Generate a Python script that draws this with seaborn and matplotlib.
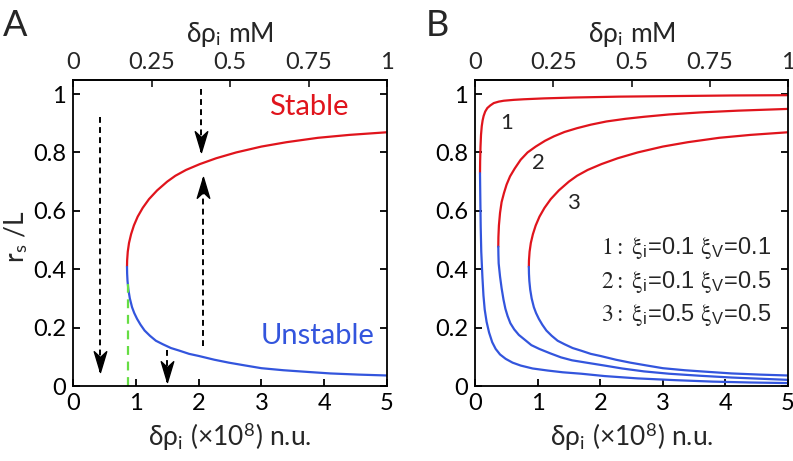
import numpy as np
import pandas as pd
import matplotlib
matplotlib.use('Agg')
import matplotlib.pyplot as plt
from matplotlib.path import Path
import seaborn as sns

sns.set_theme(style='ticks')
plt.rcParams['font.family'] = ['Lato', 'DejaVu Sans']
plt.rcParams['mathtext.fontset'] = 'stix'

RED = '#e0141c'
BLUE = '#3355dd'
GREEN = '#66dd44'

# curve 3 (xi_i=0.5, xi_v=0.5), also the curve of panel A
c3_stable_y = [0.408, 0.43, 0.46, 0.49, 0.52, 0.55, 0.58, 0.61, 0.64, 0.67, 0.70, 0.72, 0.74,
               0.76, 0.78, 0.80, 0.82, 0.835, 0.85, 0.86, 0.869]
c3_stable_x = [0.86, 0.862, 0.872, 0.892, 0.925, 0.97, 1.03, 1.11, 1.21, 1.34, 1.50, 1.63, 1.80,
               2.02, 2.28, 2.60, 3.0, 3.4, 3.9, 4.4, 5.0]
c3_unstable_y = [0.408, 0.385, 0.36, 0.33, 0.30, 0.27, 0.25, 0.23, 0.21, 0.19, 0.172, 0.155, 0.143,
                 0.13, 0.121, 0.11, 0.103, 0.09, 0.08, 0.07, 0.061, 0.054, 0.048, 0.043, 0.039, 0.036]
c3_unstable_x = [0.86, 0.862, 0.868, 0.882, 0.905, 0.94, 0.975, 1.02, 1.075, 1.14, 1.225, 1.32, 1.43,
                 1.56, 1.695, 1.85, 2.0, 2.25, 2.48, 2.75, 3.0, 3.35, 3.75, 4.1, 4.55, 5.0]

# curve 2 (xi_i=0.1, xi_v=0.5)
c2_stable_y = [0.477, 0.51, 0.55, 0.593, 0.63, 0.661, 0.69, 0.718, 0.745, 0.775, 0.80, 0.82,
               0.84, 0.855, 0.87, 0.883, 0.895, 0.906, 0.915, 0.922, 0.93, 0.937, 0.943, 0.949]
c2_stable_x = [0.372, 0.374, 0.382, 0.40, 0.425, 0.463, 0.505, 0.56, 0.635, 0.73, 0.84, 0.97,
               1.12, 1.26, 1.43, 1.63, 1.85, 2.1, 2.4, 2.7, 3.1, 3.6, 4.2, 5.0]
c2_unstable_y = [0.477, 0.45, 0.42, 0.375, 0.335, 0.296, 0.265, 0.24, 0.215, 0.194, 0.175, 0.16, 0.14,
                 0.127, 0.112, 0.098, 0.088, 0.081, 0.07, 0.06, 0.05, 0.042, 0.035, 0.029, 0.025, 0.021]
c2_unstable_x = [0.372, 0.374, 0.378, 0.40, 0.425, 0.455, 0.485, 0.52, 0.565, 0.626, 0.70, 0.786, 0.9,
                 1.027, 1.2, 1.374, 1.55, 1.75, 2.07, 2.35, 2.7, 3.1, 3.6, 4.1, 4.55, 5.0]

# curve 1 (xi_i=0.1, xi_v=0.1)
c1_stable_y = [0.729, 0.77, 0.82, 0.86, 0.89, 0.91, 0.925, 0.94, 0.952, 0.961, 0.969, 0.974,
               0.977, 0.98, 0.982, 0.985, 0.988, 0.991, 0.993, 0.995, 0.996]
c1_stable_x = [0.08, 0.082, 0.088, 0.096, 0.108, 0.122, 0.138, 0.163, 0.197, 0.245, 0.30, 0.38,
               0.46, 0.62, 0.78, 1.1, 1.58, 2.3, 3.2, 4.1, 5.0]
c1_unstable_y = [0.729, 0.64, 0.545, 0.46, 0.375, 0.31, 0.262, 0.22, 0.183, 0.15, 0.127, 0.108, 0.093,
                 0.08, 0.07, 0.06, 0.053, 0.047, 0.042, 0.034, 0.026, 0.02, 0.015, 0.012, 0.01]
c1_unstable_x = [0.08, 0.085, 0.091, 0.10, 0.118, 0.135, 0.155, 0.185, 0.225, 0.275, 0.33, 0.40, 0.49,
                 0.6, 0.73, 0.92, 1.16, 1.4, 1.7, 2.07, 2.6, 3.2, 3.8, 4.4, 5.0]

# panel A extras
threshold_x = 0.87
threshold_top = 0.35
# arrows: x, start y, tip y
arrows_A = [(0.43, 0.92, 0.049), (2.04, 1.018, 0.80), (2.07, 0.136, 0.716), (1.49, 0.125, 0.015)]

x_ticks = [0, 1, 2, 3, 4, 5]
y_ticks = [0, 0.2, 0.4, 0.6, 0.8, 1]
y_ticklabels = ['0', '0.2', '0.4', '0.6', '0.8', '1']
top_ticks = [0, 0.25, 0.5, 0.75, 1]
top_ticklabels = ['0', '0.25', '0.5', '0.75', '1']
legend_lines = [r'$\mathrm{1{:}\ ξ}_{\mathregular{i}}$=0.1 $\mathrm{ξ}_{\mathregular{V}}$=0.1',
                r'$\mathrm{2{:}\ ξ}_{\mathregular{i}}$=0.1 $\mathrm{ξ}_{\mathregular{V}}$=0.5',
                r'$\mathrm{3{:}\ ξ}_{\mathregular{i}}$=0.5 $\mathrm{ξ}_{\mathregular{V}}$=0.5']

TICK_FS = 17
LABEL_FS = 19

head_down = Path([(0, 0), (-0.3, 1), (0, 0.72), (0.3, 1), (0, 0)],
                 [Path.MOVETO, Path.LINETO, Path.LINETO, Path.LINETO, Path.CLOSEPOLY])
head_up = Path([(0, 0), (-0.3, -1), (0, -0.72), (0.3, -1), (0, 0)],
               [Path.MOVETO, Path.LINETO, Path.LINETO, Path.LINETO, Path.CLOSEPOLY])


def draw_curve(ax, sx, sy, ux, uy):
    sns.lineplot(x=sx, y=sy, sort=False, estimator=None, color=RED, lw=1.6, ax=ax)
    sns.lineplot(x=ux, y=uy, sort=False, estimator=None, color=BLUE, lw=1.6, ax=ax)


def style_axes(ax):
    ax.set_xlim(0, 5)
    ax.set_ylim(0, 1.048)
    ax.set_xticks(x_ticks)
    ax.set_yticks(y_ticks)
    ax.set_yticklabels(y_ticklabels)
    ax.tick_params(direction='in', right=True, top=False, length=5, width=1.3,
                   labelsize=TICK_FS, pad=5, colors='black')
    for s in ax.spines.values():
        s.set_linewidth(1.3)
        s.set_color('black')
    sec = ax.secondary_xaxis('top', functions=(lambda v: v / 5, lambda v: v * 5))
    sec.set_xticks(top_ticks)
    sec.set_xticklabels(top_ticklabels)
    sec.tick_params(direction='in', length=5, width=1.3, labelsize=TICK_FS, pad=5)
    sec.spines['top'].set_linewidth(1.3)
    sec.set_xlabel(r'δρ$_{\mathregular{i}}$ mM', fontsize=LABEL_FS, labelpad=7)
    ax.set_xlabel(r'δρ$_{\mathregular{i}}$ (×10$^{\mathregular{8}}$) n.u.', fontsize=LABEL_FS)
    ax.xaxis.set_label_coords(0.5, -0.112)
    ax.set_ylabel('')


fig = plt.figure(figsize=(7.93, 4.61), dpi=100)
axA = fig.add_axes([73 / 793, 75 / 461, 314 / 793, 306 / 461])
axB = fig.add_axes([475 / 793, 75 / 461, 313 / 793, 306 / 461])

# panel A
draw_curve(axA, c3_stable_x, c3_stable_y, c3_unstable_x, c3_unstable_y)
axA.plot([threshold_x, threshold_x], [0, threshold_top], color=GREEN, lw=1.6, ls=(0, (4, 3)))
for x, y0, y1 in arrows_A:
    axA.plot([x, x], [y0, y1], color='black', lw=1.4, ls=(0, (3, 2.2)))
    axA.plot([x], [y1], marker=head_down if y1 < y0 else head_up, ms=30,
             color='black', mec='black', ls='none')
axA.text(3.75, 0.955, 'Stable', color=RED, fontsize=21, ha='center', va='center')
axA.text(3.9, 0.17, 'Unstable', color=BLUE, fontsize=21, ha='center', va='center')
style_axes(axA)
axA.set_ylabel(r'r$_{\mathregular{s}}$ /L', fontsize=LABEL_FS)
axA.yaxis.set_label_coords(-0.137, 0.487)

# panel B
draw_curve(axB, c1_stable_x, c1_stable_y, c1_unstable_x, c1_unstable_y)
draw_curve(axB, c2_stable_x, c2_stable_y, c2_unstable_x, c2_unstable_y)
draw_curve(axB, c3_stable_x, c3_stable_y, c3_unstable_x, c3_unstable_y)
axB.text(0.5, 0.9, '1', fontsize=16, ha='center', va='center')
axB.text(1.01, 0.763, '2', fontsize=16, ha='center', va='center')
axB.text(1.57, 0.626, '3', fontsize=16, ha='center', va='center')
for i, line in enumerate(legend_lines):
    axB.text(2.02, 0.471 - i * 0.114, line, fontsize=17, ha='left', va='center',
             family=['Liberation Sans', 'DejaVu Sans'])
style_axes(axB)

fig.text(3 / 793, 1 - 26 / 461, 'A', fontsize=26, ha='left', va='center')
fig.text(426 / 793, 1 - 26 / 461, 'B', fontsize=26, ha='left', va='center')

fig.savefig('out.png', dpi=100)
